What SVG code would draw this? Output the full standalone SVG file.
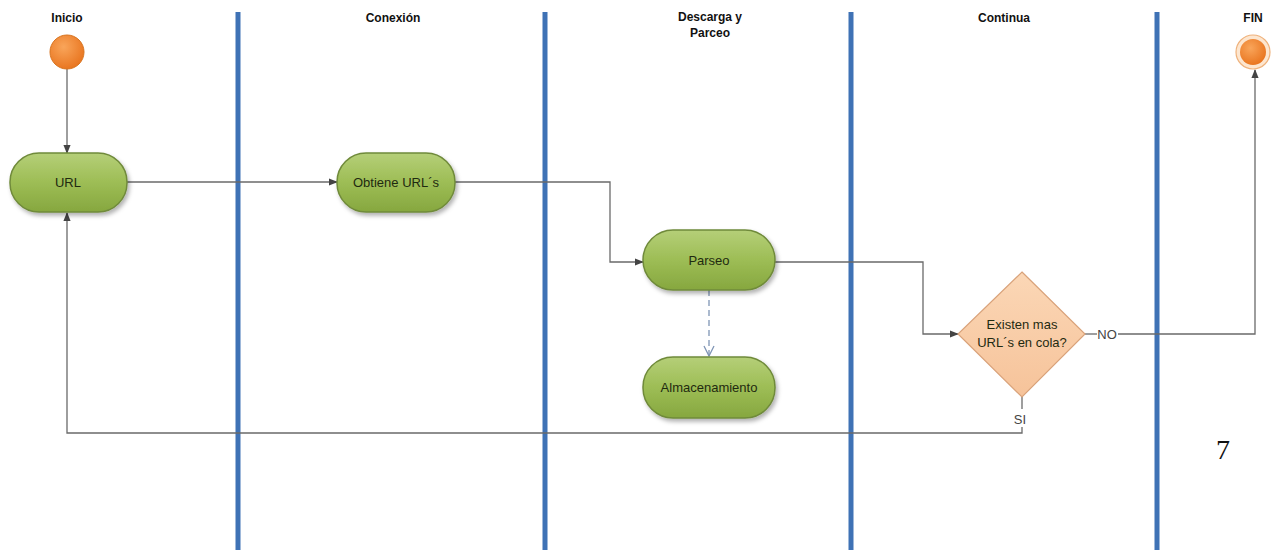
<svg xmlns="http://www.w3.org/2000/svg" width="1273" height="550" viewBox="0 0 1273 550">
  <style>
    .lane { stroke: #3f72b5; stroke-width: 5; }
    .title { font-family: "Liberation Sans", Arial, sans-serif; font-size: 12px; font-weight: bold; fill: #111; text-anchor: middle; }
    .lbl { font-family: "Liberation Sans", Arial, sans-serif; font-size: 13px; fill: #1f2a10; text-anchor: middle; }
    .edge-lbl { font-family: "Liberation Sans", Arial, sans-serif; font-size: 13px; fill: #444; text-anchor: middle; }
    .act { fill: url(#green); stroke: #6f8a3a; stroke-width: 1.5; filter: url(#shadow); }
    .conn { fill: none; stroke: #6a6a6a; stroke-width: 1.3; }
    .dash { fill: none; stroke: #7f95b5; stroke-width: 1.3; stroke-dasharray: 6 4; }
  </style>
  <defs>
    <linearGradient id="green" x1="0" y1="0" x2="0" y2="1">
      <stop offset="0" stop-color="#b5cf78"/>
      <stop offset="0.5" stop-color="#9dbd55"/>
      <stop offset="1" stop-color="#86a73f"/>
    </linearGradient>
    <radialGradient id="orange" cx="0.4" cy="0.35" r="0.7">
      <stop offset="0" stop-color="#f9a55a"/>
      <stop offset="1" stop-color="#e8731d"/>
    </radialGradient>
    <linearGradient id="peach" x1="0" y1="0" x2="0" y2="1">
      <stop offset="0" stop-color="#fbd7b6"/>
      <stop offset="1" stop-color="#f6c39a"/>
    </linearGradient>
    <filter id="shadow" x="-10%" y="-10%" width="125%" height="130%">
      <feDropShadow dx="2" dy="3" stdDeviation="2" flood-color="#000" flood-opacity="0.3"/>
    </filter>
    <marker id="arrow" viewBox="0 0 10 10" refX="9" refY="5" markerWidth="7" markerHeight="7" orient="auto">
      <path d="M0,1 L10,5 L0,9 z" fill="#444"/>
    </marker>
    <marker id="open" viewBox="0 0 12 12" refX="11" refY="6" markerWidth="12" markerHeight="12" orient="auto" markerUnits="userSpaceOnUse">
      <path d="M1,1 L11,6 L1,11" fill="none" stroke="#7f95b5" stroke-width="1.3"/>
    </marker>
  </defs>

  <rect width="1273" height="550" fill="#ffffff"/>

  <!-- swimlane separators -->
  <g id="lanes">
    <line class="lane" x1="238" y1="12" x2="238" y2="550"/>
    <line class="lane" x1="545" y1="12" x2="545" y2="550"/>
    <line class="lane" x1="851" y1="12" x2="851" y2="550"/>
    <line class="lane" x1="1157" y1="12" x2="1157" y2="550"/>
  </g>

  <!-- lane titles -->
  <g id="titles">
    <text class="title" x="67" y="22">Inicio</text>
    <text class="title" x="393" y="22">Conexión</text>
    <text class="title" x="710" y="21">Descarga y</text>
    <text class="title" x="710" y="37">Parceo</text>
    <text class="title" x="1004" y="22">Continua</text>
    <text class="title" x="1253" y="22">FIN</text>
  </g>

  <!-- connectors -->
  <g id="connectors">
    <path class="conn" d="M67,69 L67,153" marker-end="url(#arrow)"/>
    <path class="conn" d="M127,182 L337,182" marker-end="url(#arrow)"/>
    <path class="conn" d="M455,182 L610,182 L610,262 L643,262" marker-end="url(#arrow)"/>
    <path class="dash" d="M709,290 L709,356" marker-end="url(#open)"/>
    <path class="conn" d="M775,262 L923,262 L923,334 L958,334" marker-end="url(#arrow)"/>
    <path class="conn" d="M1085,334 L1097,334"/>
    <path class="conn" d="M1118,334 L1255,334 L1255,70" marker-end="url(#arrow)"/>
    <path class="conn" d="M1022,397 L1022,409"/>
    <path class="conn" d="M1022,427 L1022,433 L67,433 L67,213" marker-end="url(#arrow)"/>
    <text class="edge-lbl" x="1107" y="339">NO</text>
    <text class="edge-lbl" x="1020" y="424">SI</text>
  </g>

  <!-- start node -->
  <g id="inicio">
    <circle cx="67" cy="52" r="17" fill="url(#orange)" stroke="#d8741f" stroke-width="1"/>
  </g>

  <!-- end node -->
  <g id="fin">
    <circle cx="1253" cy="52" r="17" fill="#fde6cf" stroke="#efb27c" stroke-width="1.2"/>
    <circle cx="1253" cy="52" r="13" fill="url(#orange)"/>
  </g>

  <g id="url">
    <rect class="act" x="10" y="153" width="117" height="59" rx="29" ry="29"/>
    <text class="lbl" x="68" y="187">URL</text>
  </g>

  <g id="obtiene">
    <rect class="act" x="337" y="153" width="118" height="59" rx="29" ry="29"/>
    <text class="lbl" x="396" y="187">Obtiene URL´s</text>
  </g>

  <g id="parseo">
    <rect class="act" x="643" y="230" width="132" height="60" rx="30" ry="30"/>
    <text class="lbl" x="709" y="265">Parseo</text>
  </g>

  <g id="almacenamiento">
    <rect class="act" x="643" y="357" width="132" height="61" rx="30" ry="30"/>
    <text class="lbl" x="709" y="392">Almacenamiento</text>
  </g>

  <g id="decision">
    <polygon points="1022,272 1085,334 1022,397 958,334" fill="url(#peach)" stroke="#d9a27a" stroke-width="1.2"/>
    <text class="lbl" x="1022" y="329" fill="#333">Existen mas</text>
    <text class="lbl" x="1022" y="347">URL´s en cola?</text>
  </g>

  <text x="1223" y="459" font-family="Liberation Serif, 'Times New Roman', serif" font-size="28" fill="#111" text-anchor="middle">7</text>
</svg>
